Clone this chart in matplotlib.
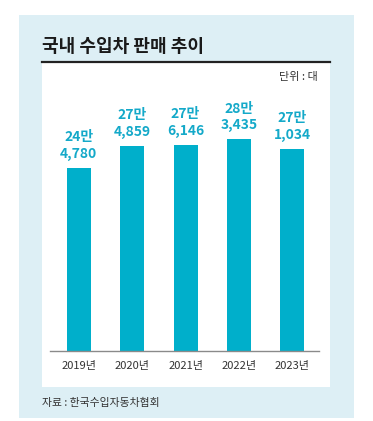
import matplotlib
matplotlib.use("Agg")
import matplotlib.pyplot as plt
from matplotlib.patches import Rectangle
from matplotlib.lines import Line2D

years = ["2019년", "2020년", "2021년", "2022년", "2023년"]
sales = [244780, 274859, 276146, 283435, 271034]
labels = ["24만\n4,780", "27만\n4,859", "27만\n6,146", "28만\n3,435", "27만\n1,034"]
title = "국내 수입차 판매 추이"
unit = "단위 : 대"
source = "자료 : 한국수입자동차협회"

W, H = 373, 421
DPI = 100
plt.rcParams['font.family'] = ['Noto Sans CJK KR', 'DejaVu Sans']

fig = plt.figure(figsize=(W / DPI, H / DPI), dpi=DPI)
fig.patch.set_facecolor("white")

def px(x0, y0, x1, y1):
    return (x0 / W, 1 - y1 / H, (x1 - x0) / W, (y1 - y0) / H)

panel_color = "#DDEFF5"
x, y, w, h = px(19, 15, 354, 418)
fig.patches.append(Rectangle((x, y), w, h, transform=fig.transFigure, facecolor=panel_color, edgecolor="none", zorder=-2))
x, y, w, h = px(42, 62, 330, 387)
fig.patches.append(Rectangle((x, y), w, h, transform=fig.transFigure, facecolor="white", edgecolor="none", zorder=-1))
fig.lines.append(Line2D([42 / W, 330 / W], [1 - 62 / H, 1 - 62 / H], transform=fig.transFigure, color="#222222", lw=1.6))

fig.text(42 / W, 1 - 47 / H, title, fontsize=13, fontweight="black", color="#1a1a1a", va="center", ha="left")
fig.text(318 / W, 1 - 77 / H, unit, fontsize=8, color="#333333", va="center", ha="right")
fig.text(42 / W, 1 - 403 / H, source, fontsize=7.8, color="#333333", va="center", ha="left")

ax = fig.add_axes(px(50, 127, 319, 351))
ax.set_facecolor("none")
ax.set_zorder(1)
pos = list(range(len(years)))
bar_color = "#00AFCB"
ax.bar(pos, sales, width=0.45, color=bar_color, zorder=2)
ax.set_xlim(-0.54, 4.5)
ax.set_ylim(0, 300000)
for s in ["top", "right", "left"]:
    ax.spines[s].set_visible(False)
ax.spines["bottom"].set_color("#8a8a8a")
ax.spines["bottom"].set_linewidth(1.0)
ax.set_yticks([])
ax.set_xticks(pos)
ax.set_xticklabels(years, fontsize=8, color="#333333")
ax.tick_params(axis="x", length=0, pad=7)

for p, v, lab in zip(pos, sales, labels):
    ax.annotate(lab, (p, v), xytext=(0, 5), textcoords="offset points",
                ha="center", va="bottom", fontsize=10, fontweight="bold",
                color="#14A9C9", linespacing=1.25, annotation_clip=False)

fig.savefig("out.png", dpi=DPI)
